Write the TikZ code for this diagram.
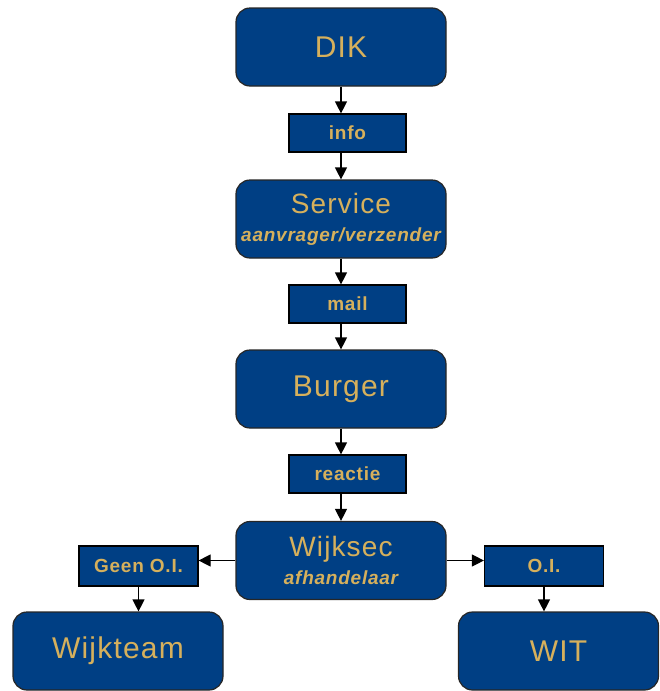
\documentclass[tikz,border=0pt]{standalone}
\usepackage{fontspec}
\setmainfont{Liberation Sans}[LetterSpace=4]
\usetikzlibrary{arrows.meta}
\definecolor{boxblue}{RGB}{0,63,132}
\definecolor{boxgold}{RGB}{214,176,92}
\tikzset{
  bigbox/.style={draw=black!85,line width=1.2pt,fill=boxblue,text=boxgold,
    rounded corners=14pt,minimum width=210pt,minimum height=78pt,
    inner sep=0pt,align=center,font=\fontsize{30}{32}\selectfont},
  tagbox/.style={draw=black,line width=1.2pt,fill=boxblue,text=boxgold,
    minimum width=117pt,minimum height=38pt,inner sep=0pt,
    font=\fontsize{19}{21}\selectfont\bfseries},
  flow/.style={line width=1.2pt,-{Triangle[length=12pt,width=12pt]}}
}
\newcommand{\subline}[1]{\\[-2pt]{\fontsize{19}{20}\selectfont\bfseries\itshape #1}}
\begin{document}
\begin{tikzpicture}[x=1pt,y=-1pt]
  \useasboundingbox (0,0) rectangle (659,691);
  % main chain
  \node[bigbox,font=\fontsize{30}{32}\selectfont] (dik) at (341,47) {DIK};
  \node[tagbox] (info) at (347.5,133) {info};
  \node[bigbox,font=\fontsize{28}{30}\selectfont] (service) at (341,219)
    {Service\subline{aanvrager/verzender}};
  \node[tagbox] (mail) at (347.5,304) {mail};
  \node[bigbox] (burger) at (341,389) {Burger};
  \node[tagbox] (reactie) at (347.5,474) {reactie};
  \node[bigbox,font=\fontsize{28}{30}\selectfont] (wijksec) at (341,560.5)
    {Wijksec\subline{afhandelaar}};
  % branches
  \node[tagbox,minimum width=119pt,minimum height=40pt] (geen) at (138.5,566) {Geen O.I.};
  \node[tagbox,minimum width=119pt,minimum height=40pt] (oi) at (544,566) {O.I.};
  \node[bigbox] (wijkteam) at (118,651) {Wijkteam};
  \node[bigbox,minimum width=200pt] (wit) at (558.5,651) {WIT};

  \foreach \a/\b in {dik/info,info/service,service/mail,mail/burger,burger/reactie,reactie/wijksec}
    \draw[flow] (\a.south -| dik) -- (\b.north -| dik);
  \draw[flow] (wijksec.west) -- (wijksec.west -| geen.east);
  \draw[flow] (wijksec.east) -- (wijksec.east -| oi.west);
  \draw[flow] (geen.south) -- (geen.south |- wijkteam.north);
  \draw[flow] (oi.south) -- (oi.south |- wit.north);
\end{tikzpicture}
\end{document}
